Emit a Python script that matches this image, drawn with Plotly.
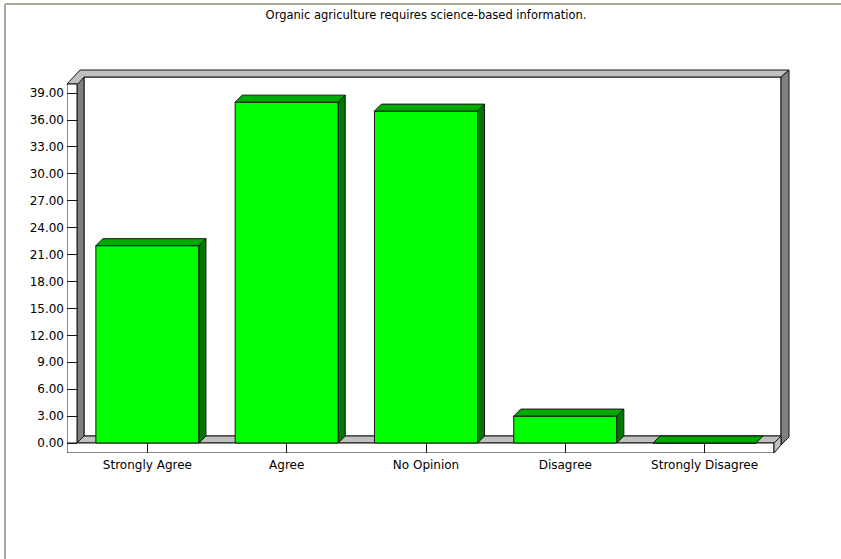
import plotly.graph_objects as go

# %%
title = 'Organic agriculture requires science-based information.'
categories = ['Strongly Agree', 'Agree', 'No Opinion', 'Disagree', 'Strongly Disagree']
values = [22, 38, 37, 3, 0]
y_ticks = list(range(0, 40, 3))
y_tick_text = ['%.2f' % v for v in y_ticks]

# %%
# pixel geometry of the picture
W, H = 841, 559
L, R, T, B = 67, 790, 67, 453        # plot area = whole 3D frame
X_STEP, X_C0 = 139.3, 147.4          # px between categories, px of first one
Y_STEP, Y_ZERO = 8.97, 443           # px per unit, px of the zero line
DEPTH = 7                            # px of the fake 3D depth
BAR_W = 0.74

def to_x(p):
    return (p - X_C0) / X_STEP

def to_y(p):
    return (Y_ZERO - p) / Y_STEP

def to_px(p):
    return (p - L) / (R - L)

def to_py(p):
    return (B - p) / (B - T)

ddx = DEPTH / X_STEP
ddy = DEPTH / Y_STEP

def path(points):
    return 'M ' + ' L '.join('%f,%f' % (to_x(a), to_y(b)) for a, b in points) + ' Z'

LINE = '#151515'
frame = [
    # back wall
    ([(84, 77), (781, 77), (781, 436), (84, 436)], 'white'),
    # left wall
    ([(77, 443), (84, 436), (84, 77), (77, 84)], '#808080'),
    # floor
    ([(77, 443), (774, 443), (781, 436), (84, 436)], '#c0c0c0'),
    # top edge
    ([(67, 84), (78, 84), (84, 77), (781, 77), (789, 70), (80, 70)], '#c0c0c0'),
    # right wall
    ([(781, 77), (789, 70), (789, 437), (781, 445)], '#808080'),
    # y axis strip
    ([(67, 84), (77, 84), (77, 453), (67, 453)], 'white'),
    # x axis strip
    ([(67, 443), (774, 443), (774, 453), (67, 453)], 'white'),
    ([(774, 443), (781, 436), (781, 445), (774, 453)], '#c0c0c0'),
]

fig = go.Figure()

# %%
fig.add_trace(go.Bar(
    x=list(range(len(categories))),
    y=values,
    width=BAR_W,
    marker=dict(color='#00ff00', line=dict(color=LINE, width=1)),
    hoverinfo='skip'
))

for i, v in enumerate(values):
    x0, x1 = i - BAR_W / 2, i + BAR_W / 2
    # top face
    fig.add_trace(go.Scatter(
        x=[x0, x1, x1 + ddx, x0 + ddx, x0],
        y=[v, v, v + ddy, v + ddy, v],
        mode='lines', fill='toself', fillcolor='#00aa00',
        line=dict(color=LINE, width=1), hoverinfo='skip'
    ))
    # side face
    if v > 0:
        fig.add_trace(go.Scatter(
            x=[x1, x1 + ddx, x1 + ddx, x1, x1],
            y=[0, ddy, v + ddy, v, 0],
            mode='lines', fill='toself', fillcolor='#007800',
            line=dict(color=LINE, width=1), hoverinfo='skip'
        ))

shapes = [
    dict(type='path', path=path(pts), xref='x', yref='y', layer='below',
         fillcolor=col, line=dict(color=LINE, width=1))
    for pts, col in frame
]
# page border
shapes += [
    dict(type='line', xref='paper', yref='paper', x0=to_px(5), x1=to_px(W),
         y0=to_py(4), y1=to_py(4), line=dict(color='#aca899', width=2)),
    dict(type='line', xref='paper', yref='paper', x0=to_px(5), x1=to_px(5),
         y0=to_py(4), y1=to_py(H), line=dict(color='#aca899', width=2)),
]

fig.update_layout(
    width=W, height=H,
    margin=dict(l=L, r=W - R, t=T, b=H - B, pad=0),
    paper_bgcolor='white', plot_bgcolor='white',
    showlegend=False,
    font=dict(family='DejaVu Sans', size=12, color='black'),
    title=dict(text=title, x=426 / W, y=1 - 15 / H, xanchor='center', yanchor='middle',
               font=dict(size=11.5, color='black')),
    xaxis=dict(range=[to_x(L), to_x(R)], tickvals=list(range(len(categories))),
               ticktext=categories, ticks='inside', ticklen=10, tickcolor=LINE,
               ticklabelstandoff=3,
               showgrid=False, zeroline=False, showline=False, fixedrange=True),
    yaxis=dict(range=[to_y(B), to_y(T)], tickvals=y_ticks, ticktext=y_tick_text,
               ticks='inside', ticklen=10, tickcolor=LINE, ticklabelstandoff=2,
               showgrid=False, zeroline=False, showline=False, fixedrange=True),
    shapes=shapes,
)

fig.write_html('out.html', config={'displayModeBar': False},
               post_script="document.body.style.margin='0';")
